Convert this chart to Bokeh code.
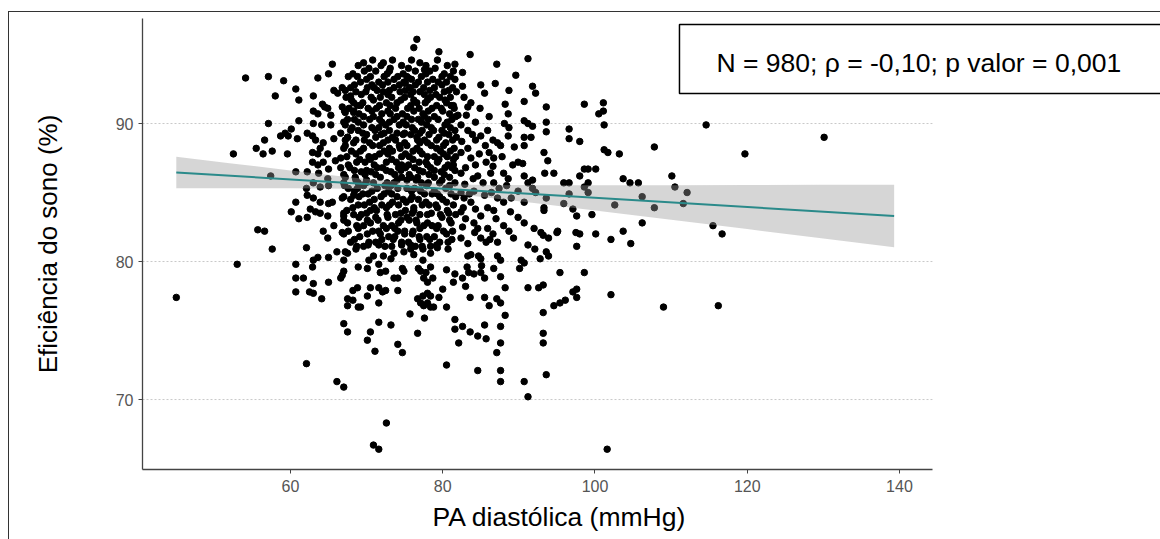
from bokeh.plotting import figure
from bokeh.models import Range1d, BoxAnnotation, Label, FixedTicker, Title, InlineStyleSheet
from bokeh.embed import file_html
from bokeh.resources import INLINE

# ---------------- data ----------------
x_ticks = [60, 80, 100, 120, 140]
y_ticks = [70, 80, 90]

pts_left = [
    (45.0, 77.4), (52.5, 87.8), (53.0, 79.8), (54.1, 93.3), (55.5, 88.2), (55.7, 82.3), (56.4, 87.8),
    (56.6, 82.2), (56.6, 88.8), (57.1, 93.4), (57.1, 90.0), (57.6, 88.0), (57.6, 80.9), (58.0, 92.0),
    (57.4, 86.2), (58.7, 89.1), (59.1, 93.1), (59.3, 89.3), (59.7, 89.1), (60.1, 89.6), (59.6, 87.8),
    (60.7, 92.5), (61.1, 91.7), (60.7, 86.5), (62.2, 86.5), (60.7, 84.3), (60.1, 83.6), (61.1, 83.1),
    (64.3, 82.2), (62.1, 81.0), (65.5, 94.3), (65.0, 93.6), (63.6, 93.3), (63.0, 92.0), (65.7, 92.4),
    (66.2, 92.2), (66.8, 92.6), (64.2, 91.4), (64.5, 91.2), (63.0, 90.9), (63.6, 90.7), (64.9, 91.1),
    (65.3, 90.6), (66.8, 91.2), (67.2, 90.8), (68.8, 91.3), (63.0, 90.0), (64.1, 89.9), (65.3, 89.9),
    (61.1, 90.2), (62.2, 89.3), (62.9, 89.1), (63.3, 88.8), (64.3, 88.6), (63.9, 88.2), (62.9, 87.9),
    (63.6, 87.8), (64.9, 87.8), (60.9, 88.9), (65.7, 88.9), (66.6, 89.3), (67.2, 89.9), (67.5, 89.0),
    (68.3, 90.8), (62.9, 87.2), (63.6, 87.0), (64.3, 87.2), (65.0, 86.7), (66.6, 86.8), (63.7, 86.4),
    (63.0, 85.7), (63.9, 85.4), (62.1, 85.3), (62.2, 84.8), (64.9, 86.0), (65.0, 85.5), (67.0, 85.7),
    (66.8, 84.6), (63.0, 84.6), (63.9, 84.3), (65.0, 84.2), (65.5, 84.3), (62.6, 83.8), (63.3, 83.6),
    (63.9, 83.5), (62.2, 83.2), (64.9, 83.3), (67.0, 83.3), (65.7, 82.6), (66.8, 82.1), (64.9, 81.7),
    (67.9, 92.0), (67.2, 88.4), (65.9, 87.3), (66.6, 87.5), (68.9, 85.7), (68.3, 84.8),
]

pts_low = [
    (60.7, 79.8), (63.0, 80.1), (63.6, 80.3), (62.9, 79.6), (65.0, 80.3), (66.1, 80.7), (67.2, 80.7),
    (67.5, 80.6), (68.6, 80.9), (67.0, 80.1), (68.9, 79.6), (60.7, 78.8), (61.7, 78.8), (63.0, 78.4),
    (65.0, 78.5), (67.0, 79.3), (66.6, 78.8), (66.8, 79.0), (60.7, 77.8), (62.5, 77.8), (63.0, 77.7),
    (64.1, 77.3), (68.2, 77.9), (68.8, 78.1), (67.5, 77.3), (68.2, 77.2), (67.5, 76.8), (68.9, 76.7),
    (67.0, 75.5), (67.5, 74.9), (62.1, 72.6), (66.1, 71.3), (67.0, 70.9),
    (70.1, 77.5), (69.2, 76.7), (71.6, 77.0), (70.5, 78.1), (71.6, 78.1), (72.1, 77.8), (72.5, 77.9),
    (74.1, 77.9), (71.8, 79.2), (72.5, 79.3), (73.6, 78.8), (74.1, 78.8), (74.7, 79.5), (74.9, 79.3),
    (71.6, 75.6), (73.2, 75.4), (70.5, 74.9), (70.1, 74.3), (71.1, 73.5), (74.1, 74.0), (74.7, 73.4),
    (75.7, 76.2), (76.7, 74.8), (77.6, 75.9), (76.7, 77.3), (77.1, 77.0), (77.5, 76.8), (78.0, 77.0),
    (78.4, 76.7), (77.4, 77.5), (78.0, 77.7), (78.4, 77.5), (78.8, 76.7), (79.5, 77.4), (80.0, 78.0),
    (80.5, 79.4), (80.5, 76.7), (78.4, 79.6), (78.7, 78.8), (78.0, 78.5), (77.1, 79.3), (77.5, 78.8),
    (81.4, 78.5), (81.6, 79.1), (81.6, 75.8), (81.6, 75.1), (82.6, 75.3), (83.6, 74.9), (82.1, 74.1),
    (84.6, 74.6), (85.5, 75.4), (85.7, 74.4), (83.0, 78.2), (83.6, 77.4), (82.6, 78.8), (83.4, 79.2),
    (84.1, 79.1), (83.2, 79.6), (83.3, 80.4), (83.7, 80.5), (85.0, 79.2), (85.1, 79.7), (84.7, 80.4),
    (85.0, 80.2), (85.5, 78.8), (85.5, 77.4), (86.1, 76.8), (86.7, 79.5), (87.1, 77.3), (87.6, 77.0),
    (87.6, 78.9), (88.2, 78.1), (88.2, 76.1), (87.6, 75.3), (87.6, 74.1), (87.1, 73.4), (84.6, 72.1),
    (87.6, 72.1), (87.6, 71.3), (80.5, 72.5), (90.7, 71.3), (91.2, 70.2), (93.6, 71.8), (93.2, 74.8),
    (93.2, 74.1), (93.2, 76.3), (94.6, 76.8), (95.4, 77.0), (91.2, 78.1), (92.6, 78.1), (93.2, 78.3),
    (90.1, 79.5), (90.3, 80.1), (90.7, 79.9), (87.2, 80.4), (87.6, 80.1), (92.8, 80.2), (93.6, 80.7),
    (93.9, 80.4), (92.1, 80.9), (95.4, 79.2), (72.6, 68.3), (70.9, 66.7), (71.6, 66.4),
    (70.9, 80.4), (71.6, 79.8), (70.3, 80.1), (70.1, 79.5), (72.2, 80.4), (73.6, 80.6), (73.2, 80.2),
    (74.9, 80.7), (75.8, 80.9), (76.2, 80.5), (77.4, 80.9), (78.4, 80.6), (79.3, 81.0), (80.7, 80.9),
    (77.4, 80.1), (76.8, 79.5), (77.8, 79.2),
]

pts_mid = [
    (76.6, 96.1), (76.2, 95.5), (79.5, 95.2), (83.6, 95.0), (81.6, 94.3), (82.6, 93.7), (87.1, 94.3),
    (91.2, 94.7), (89.6, 93.5), (77.6, 93.9), (75.5, 93.3), (75.1, 92.9), (82.6, 92.7), (85.0, 92.8),
    (85.5, 92.2), (88.7, 92.4), (91.8, 92.7), (92.2, 92.2), (88.2, 91.4), (90.7, 91.6), (93.6, 91.2),
    (88.6, 90.7), (88.7, 89.7), (90.7, 90.2), (91.2, 90.0), (91.8, 89.8), (93.6, 90.1), (93.6, 89.4),
    (90.7, 89.0), (91.6, 89.0), (93.3, 87.9), (93.8, 87.3), (94.6, 86.4), (93.4, 86.4), (90.7, 88.4),
    (90.5, 87.1), (91.8, 85.9), (93.3, 83.9), (93.3, 83.7), (90.7, 84.3), (95.0, 82.1), (93.2, 81.9),
    (83.7, 91.5), (83.3, 91.2), (81.4, 91.3), (82.0, 90.6), (82.4, 89.9), (83.3, 89.5), (84.3, 90.1),
    (85.0, 89.1), (84.3, 88.8), (85.9, 89.5), (86.6, 88.8), (87.2, 88.6), (87.6, 88.4), (86.1, 87.9),
    (86.7, 87.5), (88.6, 89.1), (89.2, 87.0), (89.9, 87.2), (88.0, 86.4), (88.6, 86.0), (90.7, 86.2),
    (91.2, 85.7), (91.8, 85.3), (92.2, 85.0), (93.6, 84.6), (89.9, 85.1), (86.7, 85.7), (87.4, 85.3),
    (84.6, 86.2), (85.3, 85.7), (83.7, 87.5), (84.3, 87.0), (82.4, 87.9), (83.3, 88.2), (81.4, 87.0),
    (82.4, 86.4), (87.2, 84.6), (88.0, 84.3), (85.9, 83.9), (86.7, 83.7), (88.9, 83.6), (89.9, 83.2),
    (90.7, 82.8), (92.0, 82.4), (92.9, 82.1), (88.0, 82.6), (88.7, 82.2), (85.9, 82.4), (86.6, 82.0),
    (84.1, 82.8), (84.6, 82.4), (83.7, 84.3), (84.3, 83.8), (82.4, 85.0), (82.8, 84.6), (82.4, 83.6),
    (83.0, 83.1), (82.4, 81.7), (83.3, 81.3), (85.0, 81.7), (85.7, 81.4), (87.2, 81.4), (89.3, 81.7),
    (91.2, 81.2), (93.9, 81.7), (95.1, 82.2),
    (82.8, 91.9), (84.9, 91.1), (86.1, 90.5), (83.1, 90.6), (85.6, 88.4), (83.9, 89.2), (82.5, 88.7),
    (84.8, 87.8), (85.7, 87.2), (83.0, 86.8), (84.0, 86.0), (86.3, 86.4), (82.9, 85.6), (84.1, 85.1),
    (85.5, 84.8), (86.4, 85.0), (83.5, 84.9), (82.7, 83.9), (85.0, 83.3), (87.0, 83.1), (84.2, 82.1),
    (82.6, 82.5), (86.2, 81.6), (88.4, 85.5), (89.0, 84.6), (87.8, 87.6), (89.4, 88.3), (86.6, 86.9),
    (88.1, 90.0), (86.9, 92.9),
]

pts_right = [
    (98.6, 91.4), (101.1, 91.5), (100.5, 90.7), (101.1, 90.9), (101.2, 89.9), (114.6, 89.9),
    (130.1, 89.0), (96.6, 89.6), (96.6, 88.9), (98.0, 88.7), (101.2, 88.1), (101.7, 87.9),
    (103.2, 87.8), (107.8, 88.3), (119.7, 87.8), (100.1, 86.7), (99.1, 86.7), (98.6, 86.7),
    (98.0, 86.2), (103.7, 86.0), (104.6, 85.7), (105.7, 85.7), (110.1, 86.2), (110.5, 85.4),
    (112.1, 85.0), (95.9, 85.7), (96.6, 85.7), (99.1, 85.7), (98.6, 85.4), (99.1, 85.0), (96.6, 84.9),
    (106.2, 84.7), (102.6, 84.1), (107.8, 83.9), (111.6, 84.2), (95.9, 84.2), (97.1, 83.8),
    (97.6, 83.3), (99.6, 83.4), (106.2, 82.8), (115.5, 82.6), (116.7, 82.0), (97.5, 82.1),
    (98.0, 82.0), (100.1, 82.0), (103.7, 82.2), (102.1, 81.6), (104.7, 81.3), (97.6, 81.1),
    (98.6, 79.2), (97.1, 77.8), (97.6, 78.0), (97.6, 77.4), (96.1, 77.2), (102.1, 77.6),
    (109.0, 76.7), (116.2, 76.8), (101.6, 66.4),
]

# dense core, read row by row: (sleep efficiency, [diastolic BP values])
core_rows_a = [
    (94.6, [70.8, 73.4, 75.9, 79.3]),
    (94.2, [68.9, 71.9, 74.6, 77.8, 80.6]),
    (93.8, [69.7, 71.2, 73.0, 76.4, 78.3, 81.4]),
    (93.4, [67.6, 68.8, 70.5, 72.3, 74.1, 75.3, 77.2, 79.9, 81.0]),
    (93.0, [69.2, 71.6, 72.8, 74.9, 76.8, 78.0, 79.4, 80.5]),
    (92.6, [67.9, 70.1, 71.0, 73.6, 75.7, 77.5, 78.9, 81.3]),
    (92.3, [68.6, 69.9, 72.2, 74.4, 76.1, 77.0, 80.2, 81.8]),
    (91.9, [67.3, 70.6, 71.8, 73.3, 75.0, 78.4, 79.6, 81.0]),
    (91.5, [68.3, 69.5, 72.6, 74.0, 76.6, 77.7, 80.5]),
    (91.1, [67.7, 70.2, 71.3, 73.8, 75.4, 76.9, 78.6, 79.8, 81.5]),
    (90.7, [69.0, 72.0, 73.1, 74.7, 77.4, 80.9]),
    (90.3, [67.5, 68.4, 70.4, 71.7, 73.6, 75.9, 76.8, 78.1, 79.4, 81.2]),
    (89.9, [69.6, 72.5, 74.3, 75.2, 77.9, 80.3]),
    (89.5, [67.9, 68.9, 71.1, 73.0, 76.3, 77.3, 78.8, 79.9, 81.6]),
    (89.2, [70.0, 71.9, 74.8, 75.8, 78.2, 80.8]),
    (88.8, [67.2, 68.6, 69.7, 72.8, 73.8, 76.7, 77.6, 79.2, 81.3]),
    (88.4, [70.8, 71.7, 74.3, 75.3, 78.5, 80.1]),
    (88.0, [68.0, 69.2, 72.3, 73.4, 76.1, 77.0, 79.7, 81.0]),
    (87.6, [67.4, 70.3, 71.1, 74.6, 75.6, 78.0, 78.9, 80.6, 81.7]),
    (87.2, [68.7, 69.8, 72.6, 73.9, 76.9, 77.8, 79.3]),
    (86.8, [67.8, 71.4, 72.1, 74.2, 75.1, 76.3, 78.4, 80.3, 81.2]),
    (86.5, [69.3, 70.6, 73.2, 77.4, 79.8]),
    (86.1, [67.2, 68.5, 71.8, 74.6, 75.8, 76.7, 78.9, 80.9]),
    (85.7, [69.9, 70.9, 72.7, 73.6, 77.2, 78.1, 79.6, 81.6]),
    (85.3, [67.6, 68.8, 71.4, 74.1, 75.3, 76.3, 80.4]),
    (84.9, [69.5, 70.2, 72.3, 73.3, 77.6, 78.6, 79.3, 81.1]),
    (84.5, [67.9, 71.0, 74.8, 75.8, 76.8, 80.0]),
    (84.1, [68.9, 69.7, 72.0, 73.0, 74.2, 77.3, 78.2, 79.1, 81.4]),
    (83.7, [67.4, 70.5, 71.3, 75.1, 76.2, 80.6]),
    (83.4, [68.3, 69.3, 72.7, 73.8, 77.0, 78.0, 79.7, 81.7]),
    (83.0, [67.0, 70.1, 71.5, 74.5, 75.6, 76.5, 80.9]),
    (82.6, [68.7, 69.6, 72.2, 73.3, 77.5, 78.6, 79.4]),
    (82.2, [67.6, 70.8, 71.6, 74.1, 75.0, 76.1, 80.1, 81.3]),
    (81.8, [69.1, 72.9, 73.7, 76.9, 77.9, 78.9]),
    (81.4, [67.9, 70.3, 71.2, 74.6, 75.5, 79.6, 80.7]),
    (81.1, [68.7, 69.6, 72.4, 73.3, 76.4, 77.3, 78.4]),
]

core_rows_b = [
    (94.4, [69.6, 72.2, 77.0]),
    (94.0, [70.3, 73.1, 75.5, 79.0]),
    (93.6, [68.2, 72.7, 74.8, 77.8, 80.2]),
    (93.2, [70.0, 73.6, 75.9, 78.7, 81.6]),
    (92.8, [68.4, 70.7, 72.1, 74.3, 76.4, 79.9]),
    (92.4, [67.2, 71.4, 73.0, 75.1, 78.3, 80.8]),
    (92.1, [69.3, 72.8, 75.8, 77.6, 79.1]),
    (91.7, [68.0, 70.9, 74.5, 76.2, 78.0, 80.3]),
    (91.3, [69.2, 71.7, 73.1, 75.8, 79.2, 81.1]),
    (90.9, [67.1, 68.3, 70.7, 72.8, 76.2, 78.1, 80.0]),
    (90.5, [69.6, 70.9, 74.0, 75.3, 77.6, 78.9, 81.7]),
    (90.1, [67.0, 68.9, 72.0, 73.0, 74.8, 77.2, 80.6]),
    (89.7, [68.1, 70.7, 71.6, 76.0, 78.5, 81.0]),
    (89.3, [69.5, 72.3, 74.0, 75.0, 77.0, 80.2]),
    (89.0, [67.5, 71.2, 73.4, 76.6, 79.5, 81.8]),
    (88.6, [68.3, 70.4, 72.2, 75.0, 77.0, 78.0, 80.4]),
    (88.2, [67.0, 69.6, 73.0, 74.4, 76.6, 79.2, 81.5]),
    (87.8, [68.6, 71.7, 72.8, 75.1, 77.3, 80.1]),
    (87.4, [69.1, 70.5, 73.3, 76.1, 79.5, 81.4]),
    (87.0, [67.6, 71.0, 74.6, 75.5, 78.0, 80.7]),
    (86.6, [68.4, 70.0, 72.6, 74.5, 76.9, 78.9, 81.6]),
    (86.3, [67.0, 69.8, 71.2, 73.7, 75.6, 78.2, 80.2]),
    (85.9, [68.6, 70.0, 74.0, 75.3, 76.5, 79.9]),
    (85.5, [67.1, 69.6, 72.4, 73.2, 77.9, 80.9]),
    (85.1, [68.4, 70.7, 72.9, 75.9, 77.1, 78.9]),
    (84.7, [67.0, 69.0, 71.9, 74.0, 76.0, 79.6, 81.7]),
    (84.3, [70.4, 73.4, 75.2, 77.8, 80.5]),
    (83.9, [68.2, 71.0, 72.6, 76.2, 79.3]),
    (83.5, [67.0, 70.0, 74.5, 76.0, 78.5, 80.8]),
    (83.2, [69.0, 71.2, 72.8, 75.3, 79.9]),
    (82.8, [67.5, 70.5, 74.2, 76.6, 78.0, 81.1]),
    (82.4, [68.9, 72.6, 73.7, 77.0, 79.2]),
    (82.0, [67.0, 70.1, 71.8, 75.0, 76.0, 80.5]),
    (81.6, [68.4, 72.0, 73.5, 77.0, 78.3, 81.2]),
    (81.2, [70.2, 71.6, 74.6, 75.8, 79.2]),
]

# linear fit and its confidence band
fit_x = [45.0, 139.3]
fit_y = [86.45, 83.3]
band_x = [45.0, 52.0, 60.0, 68.0, 76.0, 84.0, 92.0, 100.0, 110.0, 120.0, 130.0, 139.3]
band_lo = [85.31, 85.31, 85.31, 85.27, 85.11, 84.74, 84.24, 83.70, 83.03, 82.35, 81.66, 81.03]
band_hi = [87.59, 87.13, 86.59, 86.09, 85.71, 85.56, 85.52, 85.52, 85.53, 85.55, 85.56, 85.57]

stats_text = "N = 980; ρ = -0,10; p valor = 0,001"
x_label = "PA diastólica (mmHg)"
y_label = "Eficiência do sono (%)"

# ---------------- assemble ----------------
xs, ys = [], []
for grp in (pts_left, pts_low, pts_mid, pts_right):
    for a, b in grp:
        xs.append(a)
        ys.append(b)
for rows in (core_rows_a, core_rows_b):
    for yv, row in rows:
        for a in row:
            xs.append(a)
            ys.append(yv)

X0, X_AXIS_END = 40.56, 144.33
X1 = 174.29            # frame reaches the right edge of the canvas
Y0, Y1 = 64.93, 97.61

FONT = "Liberation Sans"

p = figure(width=1160, height=539, output_backend="svg", toolbar_location=None,
           x_range=Range1d(X0, X1), y_range=Range1d(Y0, Y1),
           min_border_left=142, min_border_right=0, min_border_top=18, min_border_bottom=70)
p.outline_line_color = None
p.background_fill_color = "white"
p.border_fill_color = "white"
p.xgrid.visible = False
p.ygrid.visible = False

# outer frame of the figure panel (top and left edges)
p.stylesheets = [InlineStyleSheet(css="""
:host { position: relative; }
:host::after {
  content: ""; position: absolute; left: 8px; top: 11px; right: -4px; bottom: -4px;
  border-left: 1.5px solid #333; border-top: 1.5px solid #333;
  pointer-events: none; z-index: 20;
}
""")]

# dotted horizontal grid lines at the y ticks (only across the axis extent)
p.segment(x0=[X0] * len(y_ticks), y0=y_ticks, x1=[X_AXIS_END] * len(y_ticks), y1=y_ticks,
          line_color="#c9c9c9", line_width=1, line_dash="2 2")

p.scatter(xs, ys, size=6.5, color="black")

p.varea(x=band_x, y1=band_lo, y2=band_hi, fill_color="#999999", fill_alpha=0.4)
p.line(fit_x, fit_y, line_color="#2a8a8a", line_width=2)

for ax in (p.xaxis[0], p.yaxis[0]):
    ax.axis_line_color = "#444444"
    ax.axis_line_width = 1.3
    ax.major_tick_line_color = "#444444"
    ax.major_tick_in = 0
    ax.major_tick_out = 4
    ax.minor_tick_line_color = None
    ax.major_label_text_font = FONT
    ax.major_label_text_font_size = "16px"
    ax.major_label_text_color = "#555555"
    ax.axis_label_text_font = FONT
    ax.axis_label_text_font_size = "26px"
    ax.axis_label_text_font_style = "normal"
    ax.axis_label_text_color = "black"

p.xaxis.ticker = FixedTicker(ticks=x_ticks)
p.yaxis.ticker = FixedTicker(ticks=y_ticks)
p.xaxis.bounds = (X0, X_AXIS_END)
p.xaxis.major_label_standoff = 6
p.yaxis.axis_label = y_label
p.yaxis.major_label_standoff = 5
p.yaxis.axis_label_standoff = 50

# x-axis title, placed under the axis and started where the original starts
p.add_layout(Title(text=x_label, align="left", offset=290, standoff=10,
                   text_font=FONT, text_font_size="26.5px", text_font_style="normal",
                   text_color="black"), "below")

# statistics box
p.add_layout(BoxAnnotation(left=111.1, right=190, top=97.18, bottom=92.18,
                           fill_color=None, fill_alpha=0, line_color="black",
                           line_alpha=1.0, line_width=1.5))
p.add_layout(Label(x=115.96, y=94.42, text=stats_text, text_font=FONT,
                   text_font_size="26.5px", text_color="black", text_baseline="alphabetic"))

open("out.html", "w").write(file_html(p, INLINE))
